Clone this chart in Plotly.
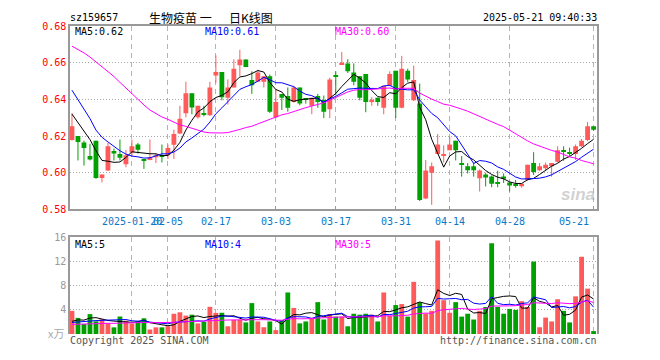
import numpy as np
import plotly.graph_objects as go

symbol = "sz159657"
title_a = "生物疫苗 一"
title_b = "日K线图"
stamp = "2025-05-21 09:40:33"

dates = [
    "2025-01-06", "2025-01-07", "2025-01-08", "2025-01-09", "2025-01-10", "2025-01-13", "2025-01-14",
    "2025-01-15", "2025-01-16", "2025-01-17", "2025-01-20", "2025-01-21", "2025-01-22", "2025-01-23",
    "2025-01-24", "2025-01-27", "2025-02-05", "2025-02-06", "2025-02-07", "2025-02-10", "2025-02-11",
    "2025-02-12", "2025-02-13", "2025-02-14", "2025-02-17", "2025-02-18", "2025-02-19", "2025-02-20",
    "2025-02-21", "2025-02-24", "2025-02-25", "2025-02-26", "2025-02-27", "2025-02-28", "2025-03-03",
    "2025-03-04", "2025-03-05", "2025-03-06", "2025-03-07", "2025-03-10", "2025-03-11", "2025-03-12",
    "2025-03-13", "2025-03-14", "2025-03-17", "2025-03-18", "2025-03-19", "2025-03-20", "2025-03-21",
    "2025-03-24", "2025-03-25", "2025-03-26", "2025-03-27", "2025-03-28", "2025-03-31", "2025-04-01",
    "2025-04-02", "2025-04-03", "2025-04-07", "2025-04-08", "2025-04-09", "2025-04-10", "2025-04-11",
    "2025-04-14", "2025-04-15", "2025-04-16", "2025-04-17", "2025-04-18", "2025-04-21", "2025-04-22",
    "2025-04-23", "2025-04-24", "2025-04-25", "2025-04-28", "2025-04-29", "2025-04-30", "2025-05-06",
    "2025-05-07", "2025-05-08", "2025-05-09", "2025-05-12", "2025-05-13", "2025-05-14", "2025-05-15",
    "2025-05-16", "2025-05-19", "2025-05-20", "2025-05-21",
]

open_ = [
    0.6179, 0.6200, 0.6165, 0.6091, 0.6175, 0.5972, 0.6012, 0.6119, 0.6102, 0.6046,
    0.6111, 0.6154, 0.6074, 0.6070, 0.6084, 0.6096, 0.6096, 0.6153, 0.6214, 0.6325,
    0.6433, 0.6302, 0.6323, 0.6314, 0.6530, 0.6549, 0.6409, 0.6465, 0.6586, 0.6618,
    0.6505, 0.6496, 0.6496, 0.6526, 0.6302, 0.6430, 0.6418, 0.6386, 0.6465, 0.6407,
    0.6365, 0.6418, 0.6396, 0.6346, 0.6530, 0.6588, 0.6596, 0.6547, 0.6526, 0.6539,
    0.6386, 0.6409, 0.6354, 0.6474, 0.6556, 0.6354, 0.6556, 0.6395, 0.6377, 0.5860,
    0.6000, 0.6102, 0.6095, 0.6123, 0.6175, 0.6053, 0.6035, 0.6035, 0.5970, 0.5991,
    0.5979, 0.5947, 0.5979, 0.5947, 0.5937, 0.5926, 0.5961, 0.6053, 0.6014, 0.6025,
    0.6035, 0.6060, 0.6123, 0.6111, 0.6102, 0.6144, 0.6179, 0.6253,
]
high = [
    0.6325, 0.6200, 0.6175, 0.6158, 0.6175, 0.5991, 0.6163, 0.6132, 0.6181, 0.6123,
    0.6181, 0.6163, 0.6074, 0.6181, 0.6105, 0.6154, 0.6154, 0.6235, 0.6365, 0.6496,
    0.6433, 0.6365, 0.6365, 0.6496, 0.6640, 0.6549, 0.6509, 0.6618, 0.6670, 0.6618,
    0.6553, 0.6561, 0.6526, 0.6535, 0.6456, 0.6430, 0.6465, 0.6474, 0.6465, 0.6407,
    0.6409, 0.6430, 0.6421, 0.6518, 0.6553, 0.6658, 0.6619, 0.6596, 0.6526, 0.6539,
    0.6412, 0.6409, 0.6474, 0.6553, 0.6556, 0.6637, 0.6567, 0.6584, 0.6486, 0.6070,
    0.6056, 0.6211, 0.6149, 0.6196, 0.6175, 0.6091, 0.6053, 0.6056, 0.6018, 0.6000,
    0.5986, 0.6011, 0.5996, 0.5947, 0.5961, 0.5940, 0.6044, 0.6112, 0.6053, 0.6056,
    0.6053, 0.6144, 0.6144, 0.6137, 0.6154, 0.6184, 0.6277, 0.6253,
]
low = [
    0.6175, 0.6067, 0.6039, 0.6067, 0.5967, 0.5947, 0.6009, 0.6067, 0.6067, 0.6030,
    0.6088, 0.6105, 0.6021, 0.6068, 0.6053, 0.6056, 0.6075, 0.6075, 0.6211, 0.6302,
    0.6319, 0.6295, 0.6307, 0.6311, 0.6491, 0.6395, 0.6372, 0.6465, 0.6526, 0.6577,
    0.6430, 0.6496, 0.6465, 0.6326, 0.6298, 0.6342, 0.6333, 0.6382, 0.6368, 0.6377,
    0.6319, 0.6354, 0.6298, 0.6298, 0.6421, 0.6588, 0.6544, 0.6477, 0.6395, 0.6330,
    0.6365, 0.6365, 0.6319, 0.6474, 0.6298, 0.6351, 0.6495, 0.6391, 0.5846, 0.5856,
    0.5825, 0.6102, 0.6056, 0.6123, 0.6067, 0.5979, 0.5996, 0.5979, 0.5898, 0.5925,
    0.5921, 0.5921, 0.5944, 0.5898, 0.5919, 0.5919, 0.5956, 0.5988, 0.6009, 0.6014,
    0.5979, 0.6056, 0.6065, 0.6091, 0.6070, 0.6140, 0.6172, 0.6228,
]
close = [
    0.6254, 0.6167, 0.6135, 0.6072, 0.5972, 0.5991, 0.6144, 0.6105, 0.6082, 0.6096,
    0.6144, 0.6126, 0.6068, 0.6084, 0.6095, 0.6091, 0.6135, 0.6211, 0.6295, 0.6433,
    0.6356, 0.6365, 0.6316, 0.6465, 0.6549, 0.6412, 0.6465, 0.6567, 0.6618, 0.6577,
    0.6477, 0.6547, 0.6526, 0.6333, 0.6386, 0.6409, 0.6354, 0.6465, 0.6377, 0.6400,
    0.6409, 0.6386, 0.6333, 0.6509, 0.6523, 0.6600, 0.6553, 0.6496, 0.6409, 0.6386,
    0.6398, 0.6386, 0.6474, 0.6539, 0.6354, 0.6567, 0.6509, 0.6505, 0.5851, 0.6012,
    0.6035, 0.6154, 0.6102, 0.6154, 0.6123, 0.6046, 0.6014, 0.6014, 0.6012, 0.5974,
    0.5940, 0.5940, 0.5968, 0.5930, 0.5930, 0.5940, 0.6044, 0.6004, 0.6035, 0.6044,
    0.6053, 0.6123, 0.6118, 0.6105, 0.6144, 0.6175, 0.6253, 0.6235,
]
# volume in units of 万
volume = [
    3.84, 2.67, 1.65, 3.30, 2.10, 2.45, 1.75, 1.10, 2.90, 2.20,
    1.75, 2.10, 2.60, 0.75, 1.10, 1.10, 1.30, 3.35, 3.60, 3.05,
    3.20, 1.75, 2.00, 4.50, 3.50, 3.52, 1.28, 2.35, 2.35, 1.92,
    5.12, 2.08, 1.12, 2.08, 0.64, 2.24, 6.88, 4.32, 1.76, 2.08,
    2.67, 5.28, 2.40, 3.31, 2.88, 2.88, 1.28, 3.36, 3.20, 3.36,
    3.20, 2.08, 6.88, 2.99, 4.80, 4.96, 2.88, 8.64, 5.28, 3.40,
    3.84, 15.50, 5.60, 3.52, 5.28, 2.88, 3.36, 2.40, 3.84, 4.48,
    15.04, 4.48, 3.36, 4.16, 4.00, 5.44, 4.48, 12.00, 1.12, 2.72,
    2.08, 5.76, 3.84, 1.92, 6.24, 12.80, 7.52, 0.48,
]
# sessions before the visible window (only feed the moving averages)
prior_close = [
    0.668, 0.672, 0.675, 0.674, 0.678, 0.690, 0.698, 0.704, 0.706, 0.706,
    0.702, 0.698, 0.692, 0.672, 0.660, 0.653, 0.668, 0.672, 0.668, 0.664,
    0.668, 0.664, 0.660, 0.660, 0.638, 0.640, 0.635, 0.632, 0.6276,
]
prior_volume = [
    1.4, 1.3, 1.5, 1.2, 1.6, 1.4, 1.3, 1.5, 1.7, 1.4,
    1.2, 1.5, 1.6, 1.3, 1.4, 1.5, 1.4, 1.6, 1.5, 1.3,
    1.6, 1.8, 1.5, 1.7, 2.0, 1.5, 1.8, 1.6, 1.76,
]
tick_dates = ["2025-01-20", "2025-02-05", "2025-02-17", "2025-03-03", "2025-03-17",
              "2025-03-31", "2025-04-14", "2025-04-28", "2025-05-21"]
tick_labels = ["2025-01-20", "02-05", "02-17", "03-03", "03-17", "03-31", "04-14", "04-28", "05-21"]
price_ticks = [0.58, 0.60, 0.62, 0.64, 0.66, 0.68]
vol_ticks = [4, 8, 12, 16]

UP, DOWN = "#ff5a5a", "#00a000"
MA_COLORS = {5: "#000000", 10: "#0000ff", 30: "#ff00ff"}
MONO = "DejaVu Sans Mono"
CJK = "Noto Sans CJK SC"

n = len(dates)
x = list(range(n))
tick_pos = [dates.index(d) for d in tick_dates]


def moving_avg(series, prior, w):
    full = np.array(list(prior) + list(series), float)
    return np.convolve(full, np.ones(w) / w, mode="valid")[-len(series):]


colors = [UP if c >= o else DOWN for o, c in zip(open_, close)]
body_base = [min(o, c) for o, c in zip(open_, close)]
body_h = [max(abs(c - o), 0.0004) for o, c in zip(open_, close)]

fig = go.Figure()

for col in (UP, DOWN):
    wx, wy = [], []
    for i in x:
        if colors[i] == col:
            wx += [i, i, None]
            wy += [low[i], high[i], None]
    fig.add_trace(go.Scatter(x=wx, y=wy, mode="lines", line=dict(color=col, width=1),
                             xaxis="x", yaxis="y", hoverinfo="skip", showlegend=False))

fig.add_trace(go.Bar(x=x, y=body_h, base=body_base, width=0.8, marker=dict(color=colors, line=dict(width=0)),
                     xaxis="x", yaxis="y", showlegend=False, hoverinfo="skip"))

ma_price = {}
for w in (5, 10, 30):
    ma_price[w] = moving_avg(close, prior_close, w)
    fig.add_trace(go.Scatter(x=x, y=ma_price[w], mode="lines", line=dict(color=MA_COLORS[w], width=1),
                             xaxis="x", yaxis="y", hoverinfo="skip", showlegend=False))

fig.add_trace(go.Bar(x=x, y=volume, width=0.8, marker=dict(color=colors, line=dict(width=0)),
                     xaxis="x2", yaxis="y2", showlegend=False, hoverinfo="skip"))
ma_vol = {}
for w in (5, 10, 30):
    ma_vol[w] = moving_avg(volume, prior_volume, w)
    fig.add_trace(go.Scatter(x=x, y=ma_vol[w], mode="lines", line=dict(color=MA_COLORS[w], width=1),
                             xaxis="x2", yaxis="y2", hoverinfo="skip", showlegend=False))

# page has an 8px body margin; lay the figure out in page pixels
OFF = 8
W, H = 644, 344
L, T = 70 - OFF, 21 - OFF
R = W - (597 - OFF)
B = H - (340 - OFF)
PW, PH = W - L - R, H - T - B


def px_x(v):
    return (v - OFF - L) / PW


def px_y(v):
    return (H - B - (v - OFF)) / PH


xrange_ = [-0.33, n - 1 + 0.57]
grid_common = dict(showgrid=True, gridcolor="#b4b4b4", gridwidth=1.3, griddash="5px,4px",
                   zeroline=False, tickvals=tick_pos, showticklabels=False, range=xrange_, fixedrange=True)

fig.update_layout(
    width=W, height=H, margin=dict(l=L, r=R, t=T, b=B, pad=0),
    paper_bgcolor="white", plot_bgcolor="white", barmode="overlay", showlegend=False,
    xaxis=dict(domain=[0, 1], anchor="y", showline=True, mirror=True, linecolor="#999", linewidth=1.5,
               ticks="inside", ticklen=4, tickcolor="#999", **grid_common),
    xaxis2=dict(domain=[0, 1], anchor="y2", side="top", showline=True, mirror=False, linecolor="#999",
                linewidth=1.5, ticks="", **grid_common),
    yaxis=dict(domain=[px_y(211), 1], anchor="x", range=[0.58, 0.68], tickvals=price_ticks,
               ticktext=[f"{v:.2f}" for v in price_ticks], tickfont=dict(family=MONO, size=10, color="#ff0000"),
               showline=True, mirror=True, linecolor="#999", linewidth=1.5, ticks="",
               showgrid=True, gridcolor="#aaaaaa", gridwidth=1, griddash="1px,2px", zeroline=False, fixedrange=True),
    yaxis2=dict(domain=[0, px_y(240)], anchor="x2", range=[0, 16], tickvals=vol_ticks,
                ticktext=[str(v) for v in vol_ticks], tickfont=dict(family=MONO, size=10, color="#999999"),
                showline=True, mirror=True, linecolor="#999", linewidth=1.5, ticks="",
                showgrid=True, gridcolor="#aaaaaa", gridwidth=1, griddash="1px,2px", zeroline=False, fixedrange=True),
)

ann = []


def add_text(text, xp, yp, anchor="left", color="#000", size=10, family=MONO, xref="paper", xshift=0):
    ann.append(dict(text=text, x=xp, y=yp, xref=xref, yref="paper", xanchor=anchor, yanchor="middle",
                    showarrow=False, font=dict(family=family, size=size, color=color), xshift=xshift))


add_text(symbol, px_x(68), px_y(12))
add_text(title_a, px_x(147), px_y(12), size=12, family=CJK)
add_text(title_b, px_x(227), px_y(12), size=12, family=CJK)
add_text(stamp, px_x(599), px_y(12), anchor="right")

labels_x = [px_x(73), px_x(203), px_x(333)]
for (w, lx) in zip((5, 10, 30), labels_x):
    add_text(f"MA{w}:{ma_price[w][-1]:.2f}", lx, px_y(27), color=MA_COLORS[w])
    add_text(f"MA{w}:{int(ma_vol[w][-1])}", lx, px_y(247), color=MA_COLORS[w])

for k, (p, lab) in enumerate(zip(tick_pos, tick_labels)):
    last = k == len(tick_pos) - 1
    add_text(lab, p, px_y(223), anchor="right" if last else "center", color="#0a78c8",
             xref="x", xshift=-3 if last else 0)

add_text("Copyright 2025 SINA.COM", px_x(68), px_y(347), color="#555555")
add_text("http://finance.sina.com.cn", px_x(599), px_y(347), anchor="right", color="#555555")
add_text("x万", px_x(66), px_y(339), anchor="right", color="#aaaaaa", size=11, family=CJK)
add_text("<b><i>sina</i></b>", px_x(578), px_y(196), anchor="center", color="rgba(170,170,170,0.55)",
         size=17, family="Liberation Sans")

fig.update_layout(annotations=ann)

fig.write_html("out.html", config={"displayModeBar": False})
